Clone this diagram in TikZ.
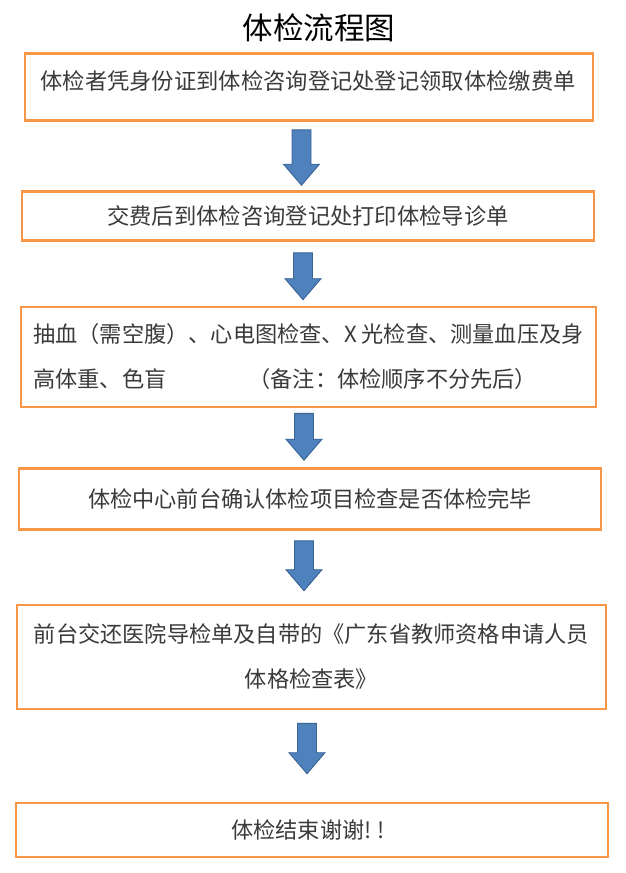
\documentclass[tikz,border=0pt]{standalone}
\usepackage{fontspec}
\setmainfont{Noto Sans CJK SC}
\newfontfamily\cjk{Noto Sans CJK SC}
\usetikzlibrary{calc}
\definecolor{boxorange}{HTML}{F79646}
\definecolor{arrowblue}{HTML}{4F81BD}
\definecolor{arrowedge}{HTML}{3A6494}
\definecolor{txtgrey}{HTML}{3A3A3A}
\tikzset{
  stepbox/.style={draw=boxorange, line width=2.6pt, fill=white, inner sep=0pt, text=txtgrey, font=\cjk\fontsize{22.2}{45}\selectfont},
  blockarrow/.style={draw=arrowedge, fill=arrowblue, line width=0.9pt, line join=miter,
    to path={let \p1=(\tikztostart), \p2=(\tikztotarget) in
      (\x1-9.5pt,\y1) -- (\x1+9.5pt,\y1) -- (\x1+9.5pt,\y2+21pt) -- (\x1+18pt,\y2+21pt)
      -- (\x1,\y2) -- (\x1-18pt,\y2+21pt) -- (\x1-9.5pt,\y2+21pt) -- cycle}}
}
\begin{document}
\begin{tikzpicture}[x=1pt,y=-1pt]
\useasboundingbox[fill=white] (0,0) rectangle (626,873);
\node[font=\cjk\fontsize{30.5}{36}\selectfont, text=black] (title) at (319,28) {体检流程图};
% boxes
\node[stepbox, minimum width=568pt, minimum height=67pt] (b1) at (309,87) {};
\node[text=txtgrey, font=\cjk\fontsize{22.3}{30}\selectfont, inner sep=0pt] (t1) at (308,81) {体检者凭身份证到体检咨询登记处登记领取体检缴费单};
\node[stepbox, minimum width=572pt, minimum height=49pt, font=\cjk\fontsize{22.3}{30}\selectfont] (b2) at (308,216) {交费后到体检咨询登记处打印体检导诊单};
\node[stepbox, minimum width=575pt, minimum height=100pt, align=left] (b3) at (308.5,357) {抽血（需空腹）、心电图检查、X 光检查、测量血压及身\\高体重、色盲\hspace{82pt}（备注：体检顺序不分先后）};
\node[stepbox, minimum width=582pt, minimum height=61pt] (b4) at (310,499) {体检中心前台确认体检项目检查是否体检完毕};
\node[stepbox, minimum width=589pt, minimum height=104pt, align=center] (b5) at (311.5,657) {前台交还医院导检单及自带的《广东省教师资格申请人员\\体格检查表》};
\node[stepbox, minimum width=592pt, minimum height=54pt] (b6) at (312,830) {\hspace{-8pt}体检结束谢谢!\kern6pt!};
% arrows
\draw[blockarrow] ([xshift=-7.5pt,yshift=-8pt]b1.south) to ([xshift=-7.5pt,yshift=5pt]b2.north);
\draw[blockarrow] ([xshift=-5pt,yshift=-11pt]b2.south) to ([xshift=-5pt,yshift=6pt]b3.north);
\draw[blockarrow] ([xshift=-4.5pt,yshift=-5pt]b3.south) to ([xshift=-4.5pt,yshift=7pt]b4.north);
\draw[blockarrow] ([xshift=-6pt,yshift=-10pt]b4.south) to ([xshift=-6pt,yshift=13pt]b5.north);
\draw[blockarrow] ([xshift=-4.5pt,yshift=-13pt]b5.south) to ([xshift=-4.5pt,yshift=28pt]b6.north);
\end{tikzpicture}
\end{document}
